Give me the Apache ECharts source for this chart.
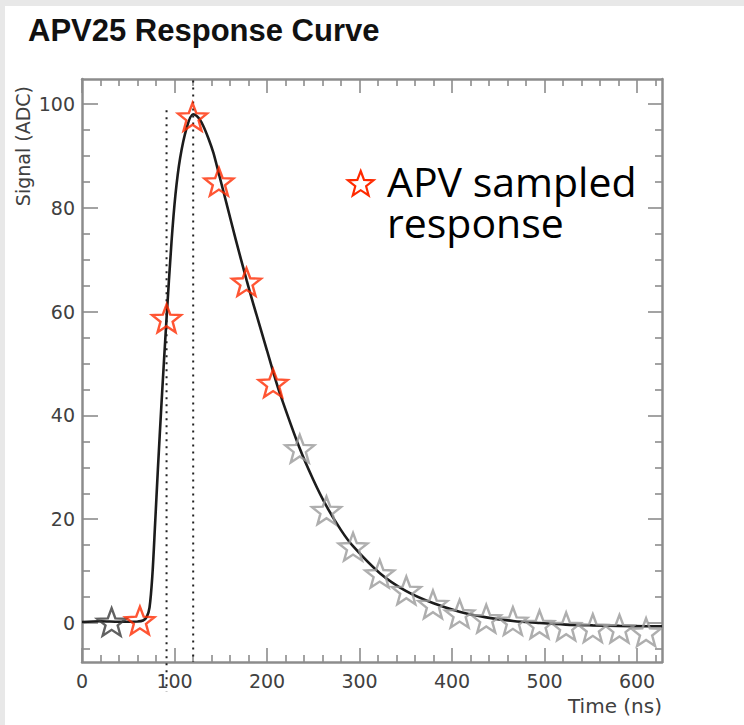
<!DOCTYPE html>
<html>
<head>
<meta charset="utf-8">
<script src="https://cdn.jsdelivr.net/npm/echarts@6/dist/echarts.min.js"></script>
<style>
html,body{margin:0;padding:0;background:#fff;}
#chart{width:744px;height:725px;}
</style>
</head>
<body>
<div id="chart"></div>
<script>
// ---- data ----
const titleText = 'APV25 Response Curve';
const xName = 'Time (ns)';
const yName = 'Signal (ADC)';
const legendLine1 = 'APV sampled';
const legendLine2 = 'response';

// response curve (time ns, signal ADC)
const curveT = [0, 20, 40, 60, 66, 70, 73, 76, 79, 82, 86, 91.4, 96.8, 101, 106, 113, 120, 126, 131, 137, 142, 148, 156, 166, 178, 185, 200, 207, 214, 235, 250, 264, 280, 293, 322, 350, 380, 408, 437, 466, 495, 523, 552, 581, 610, 627];
const curveV = [0.2, 0.35, 0.25, 0.3, 0.5, 1.2, 3, 9, 19, 29.5, 42.5, 58.7, 73.5, 82.5, 89.5, 95.3, 98, 97.3, 95.8, 93.2, 90.6, 86.5, 81, 74, 66, 61.6, 52.5, 48.2, 44.2, 33.8, 27.6, 22.6, 17.9, 14.8, 9.6, 6.2, 3.8, 2.2, 1.1, 0.4, 0, -0.3, -0.45, -0.55, -0.6, -0.6];

// sampled points
const preSampleT = [32];
const preSampleV = [0.2];
const apvSampleT = [62.6, 91.4, 119.5, 148, 177.8, 206.6];
const apvSampleV = [0.5, 58.7, 97.5, 85.0, 65.7, 46.2];
const tailSampleT = [235.4, 264.3, 293.0, 321.8, 350.6, 379.4, 408.2, 437.0, 465.8, 494.6, 523.4, 552.2, 581.0, 609.8];
const tailSampleV = [33.6, 21.7, 14.7, 9.5, 6.3, 3.6, 1.8, 0.85, 0.39, -0.25, -0.64, -0.96, -1.08, -1.74];

// dotted reference lines: time, top value, bottom value
const refLineT = [91.4, 120.2];
const refLineTop = [98.8, 104.5];
const refLineBottom = [-13.2, -7.5];

// axes
const xMin = 0, xMax = 627;
const yMin = -7.5, yMax = 104.8;
const xMajorTicks = [0, 100, 200, 300, 400, 500, 600];
const xMinorTicks = [20, 40, 60, 80, 120, 140, 160, 180, 220, 240, 260, 280, 320, 340, 360, 380, 420, 440, 460, 480, 520, 540, 560, 580, 620];
const yMajorTicks = [0, 20, 40, 60, 80, 100];
const yMinorTicks = [-5, 5, 10, 15, 25, 30, 35, 45, 50, 55, 65, 70, 75, 85, 90, 95];

// ---- build ----
const zip = (a, b) => a.map((v, i) => [v, b[i]]);
const starPath = 'path://M50,0L62.34,33.01L97.55,34.55L69.97,56.49L79.39,90.45L50,71L20.61,90.45L30.03,56.49L2.45,34.55L37.66,33.01Z';
const starSize = [29, 27.6];

function starPoints(cx, cy, R, r) {
  const pts = [];
  for (let i = 0; i < 10; i++) {
    const a = -Math.PI / 2 + i * Math.PI / 5;
    const rad = i % 2 === 0 ? R : r;
    pts.push([cx + rad * Math.cos(a), cy + rad * Math.sin(a)]);
  }
  return pts;
}

const frameColor = '#8c8c8c';
const tickColor = '#8c8c8c';
const labelFont = {fontFamily: 'DejaVu Sans, sans-serif', fontSize: 19, color: '#404040'};

function xAxisDef(pos, ticks, len, major) {
  return {
    type: 'value', min: xMin, max: xMax, position: pos,
    axisLine: {show: major, onZero: false, lineStyle: {color: frameColor, width: 2.5}},
    axisTick: {show: true, inside: true, length: len, customValues: ticks, lineStyle: {color: tickColor, width: 1.6}},
    axisLabel: {show: major && pos === 'bottom', customValues: ticks, margin: 9, ...labelFont},
    splitLine: {show: false}
  };
}
function yAxisDef(pos, ticks, len, major) {
  return {
    type: 'value', min: yMin, max: yMax, position: pos,
    axisLine: {show: major, onZero: false, lineStyle: {color: frameColor, width: 2.5}},
    axisTick: {show: true, inside: true, length: len, customValues: ticks, lineStyle: {color: tickColor, width: 1.6}},
    axisLabel: {show: major && pos === 'left', customValues: ticks, margin: 7, ...labelFont},
    splitLine: {show: false}
  };
}

const xAxes = [
  xAxisDef('bottom', xMajorTicks, 14, true),
  xAxisDef('bottom', xMinorTicks, 7, false),
  xAxisDef('top', xMajorTicks, 14, true),
  xAxisDef('top', xMinorTicks, 7, false)
];
const yAxes = [
  Object.assign(yAxisDef('left', yMajorTicks, 16, true), {
    name: yName, nameLocation: 'end', nameGap: -7, nameRotate: 90,
    nameTextStyle: {fontFamily: 'DejaVu Sans, sans-serif', fontSize: 19, color: '#404040', align: 'right', verticalAlign: 'bottom', padding: [0, 0, 50, 0]}
  }),
  yAxisDef('left', yMinorTicks, 8, false),
  yAxisDef('right', yMajorTicks, 14, true),
  yAxisDef('right', yMinorTicks, 7, false)
];

const series = [];
refLineT.forEach((t, i) => {
  series.push({
    type: 'line', name: 'ref' + i, xAxisIndex: 0, yAxisIndex: 0,
    data: [[t, refLineTop[i]], [t, refLineBottom[i]]],
    symbol: 'none', clip: false, silent: true, z: 1,
    lineStyle: {color: '#222', width: 2, type: [2, 5]}
  });
});
series.push({
  type: 'line', name: 'curve', xAxisIndex: 0, yAxisIndex: 0,
  data: zip(curveT, curveV), smooth: 0.3,
  symbol: 'none', z: 2,
  lineStyle: {color: '#1c1c1c', width: 2.6}
});
function starSeries(name, t, v, color) {
  return {
    type: 'scatter', name: name, xAxisIndex: 0, yAxisIndex: 0,
    data: zip(t, v), symbol: starPath, symbolSize: starSize, z: 3,
    itemStyle: {color: 'rgba(255,255,255,0)', borderColor: color, borderWidth: 2.4}
  };
}
series.push(starSeries('pre', preSampleT, preSampleV, '#3a3a3a'));
series.push(starSeries('tail', tailSampleT, tailSampleV, '#9a9a9a'));
series.push(starSeries('APV sampled response', apvSampleT, apvSampleV, '#ff2a00'));

const legendFont = {fontFamily: 'Open Sans, sans-serif', fontSize: 41, fill: '#000', textVerticalAlign: 'middle'};

const chart = echarts.init(document.getElementById('chart'), null, {renderer: 'svg'});
chart.setOption({
  backgroundColor: '#fff',
  animation: false,
  title: {
    text: titleText, left: 23, top: 10,
    textStyle: {fontFamily: 'Liberation Sans, Arial, sans-serif', fontSize: 31, fontWeight: 'bold', color: '#111'}
  },
  grid: {left: 82, top: 79, right: 82, bottom: 63, containLabel: false},
  xAxis: xAxes,
  yAxis: yAxes,
  series: series,
  graphic: [
    {type: 'rect', shape: {x: 0, y: 0, width: 744, height: 6}, style: {fill: '#e8e8e8'}, z: 100},
    {type: 'rect', shape: {x: 0, y: 0, width: 5, height: 725}, style: {fill: '#e8e8e8'}, z: 100},
    {type: 'text', x: 662, y: 706, style: {text: xName, fontFamily: 'DejaVu Sans, sans-serif', fontSize: 20, fill: '#404040', textAlign: 'right', textVerticalAlign: 'middle'}, z: 100},
    {type: 'polygon', shape: {points: starPoints(360.7, 184.5, 13.5, 5.7)}, style: {fill: 'rgba(255,255,255,0)', stroke: '#ff2a00', lineWidth: 2.2}, z: 100},
    {type: 'text', x: 387, y: 181, style: Object.assign({text: legendLine1}, legendFont), z: 100},
    {type: 'text', x: 387, y: 222, style: Object.assign({text: legendLine2}, legendFont), z: 100}
  ]
});
</script>
</body>
</html>
